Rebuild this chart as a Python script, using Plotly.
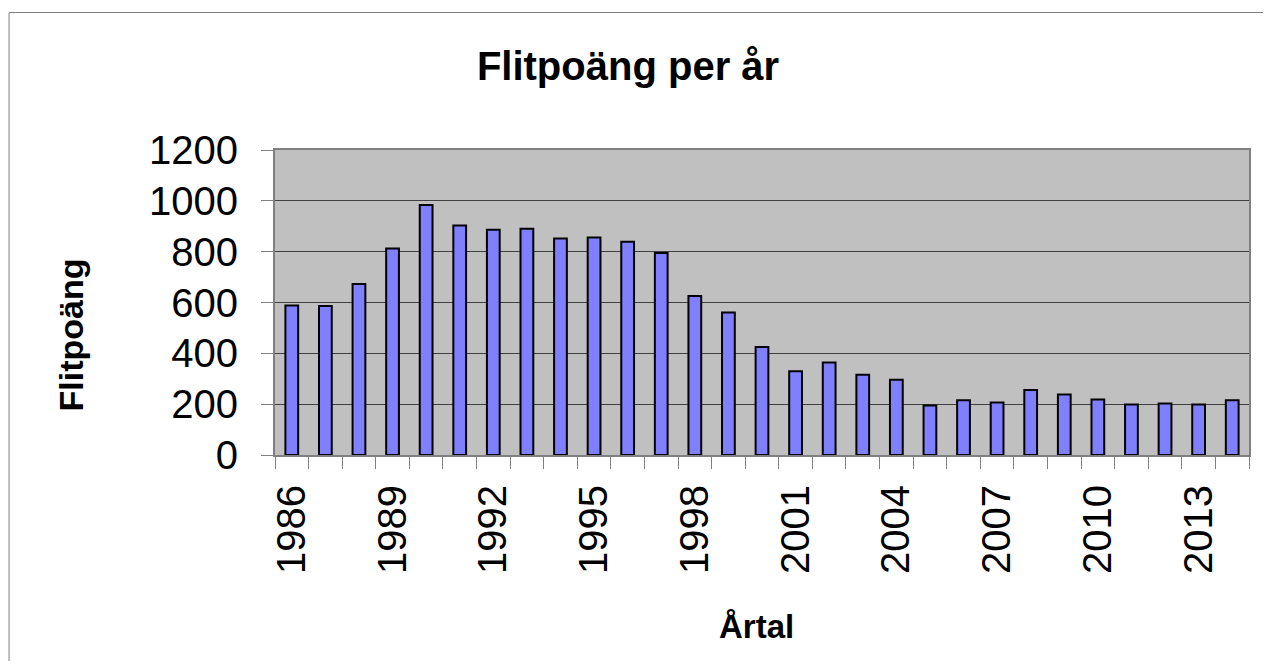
import plotly.graph_objects as go

years = list(range(1986, 2015))
points = [588, 586, 673, 812, 984, 903, 886, 890, 852, 856, 839, 795, 626, 561,
          425, 330, 364, 316, 296, 195, 215, 207, 256, 238, 218, 199, 203, 199, 215]
tick_years = [1986, 1989, 1992, 1995, 1998, 2001, 2004, 2007, 2010, 2013]
y_ticks = [0, 200, 400, 600, 800, 1000, 1200]

FONT = "Liberation Sans, Arial, sans-serif"

OFF = 8  # page body margin
W, H = 1255, 653
L, R, T, B = 267, 12, 142, 206
pw = W - L - R
ph = H - T - B

def px_x(p):
    return (p - OFF - L) / pw

def px_y(p):
    return (H - B - (p - OFF)) / ph

fig = go.Figure()
fig.add_trace(go.Bar(
    x=years, y=points, width=0.38,
    marker=dict(color="#8080FF", line=dict(color="#000000", width=2)),
))

fig.update_layout(
    width=W, height=H,
    margin=dict(l=L, r=R, t=T, b=B, pad=0),
    paper_bgcolor="white",
    plot_bgcolor="#C0C0C0",
    showlegend=False,
    font=dict(family=FONT, color="black"),
    title=dict(text="<b>Flitpoäng per år</b>", font=dict(size=40, family=FONT, color="black"),
               xref="container", x=(628 - OFF) / W, xanchor="center",
               yref="container", y=1 - (66 - OFF) / H, yanchor="middle"),
    xaxis=dict(
        range=[1985.5, 2014.5],
        tickmode="array", tickvals=tick_years, ticktext=[str(v) for v in tick_years],
        tickangle=-90, tickfont=dict(size=40, family=FONT, color="black"),
        ticks="outside", ticklen=12, tickcolor="rgba(0,0,0,0)",
        minor=dict(tick0=1985.5, dtick=1, ticks="outside", ticklen=12,
                   tickcolor="#808080", tickwidth=1, showgrid=False),
        showgrid=False, zeroline=False,
        showline=True, linecolor="#808080", linewidth=2, mirror=True,
        ticklabelstandoff=0,
    ),
    yaxis=dict(
        range=[0, 1200],
        tickmode="array", tickvals=y_ticks,
        tickfont=dict(size=40, family=FONT, color="black"),
        ticks="outside", ticklen=12, tickcolor="#808080", tickwidth=1,
        showgrid=True, gridcolor="#404040", gridwidth=1,
        zeroline=False,
        showline=True, linecolor="#808080", linewidth=2, mirror=True,
        ticklabelstandoff=15,
    ),
    annotations=[
        dict(text="<b>Flitpoäng</b>", xref="paper", yref="paper",
             x=px_x(71), y=px_y(335), xanchor="center", yanchor="middle",
             textangle=-90, showarrow=False, font=dict(size=34, family=FONT, color="black")),
        dict(text="<b>Årtal</b>", xref="paper", yref="paper",
             x=px_x(757), y=px_y(626), xanchor="center", yanchor="middle",
             showarrow=False, font=dict(size=33, family=FONT, color="black")),
    ],
    shapes=[
        dict(type="line", xref="paper", yref="paper",
             x0=px_x(8.5), x1=px_x(1300), y0=px_y(12.5), y1=px_y(12.5),
             line=dict(color="#808080", width=1)),
        dict(type="line", xref="paper", yref="paper",
             x0=px_x(8.5), x1=px_x(8.5), y0=px_y(12.5), y1=px_y(700),
             line=dict(color="#808080", width=1)),
    ],
)

fig.write_html("out.html")
